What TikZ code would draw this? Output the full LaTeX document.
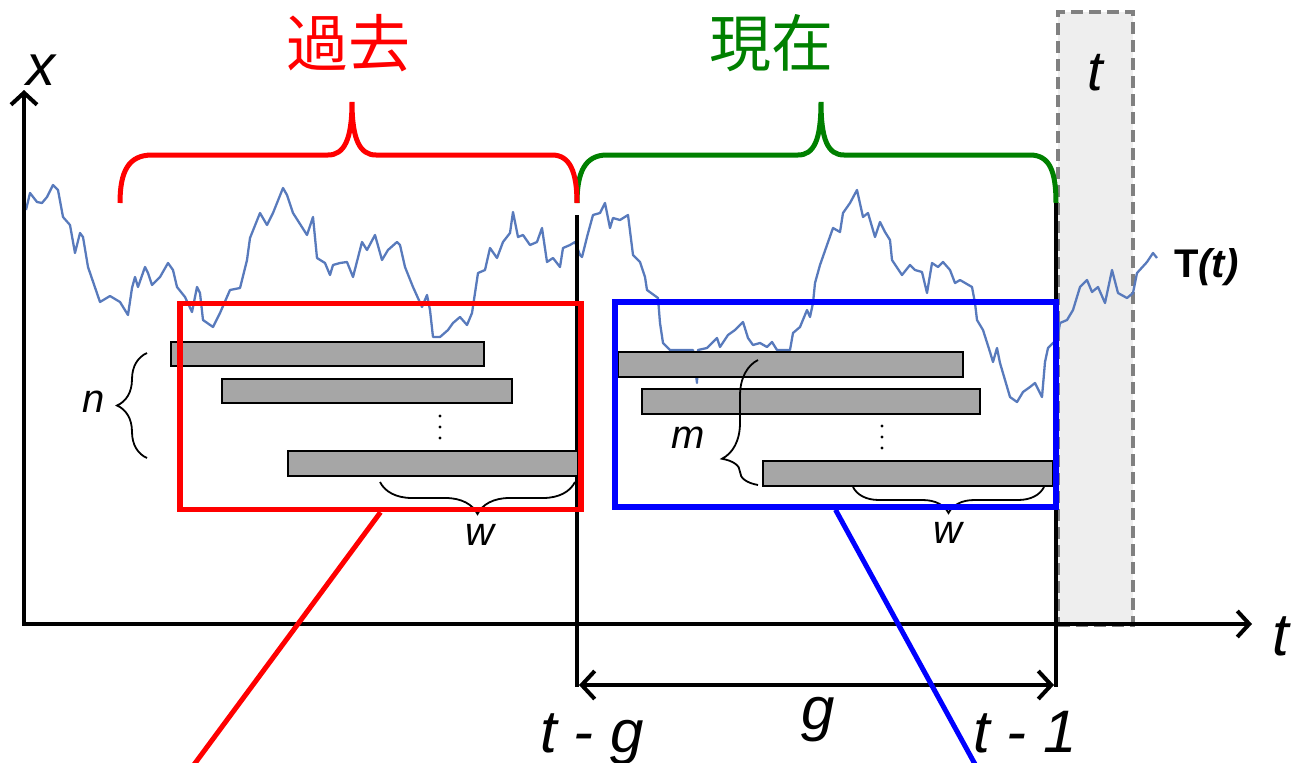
\documentclass[tikz,border=0pt]{standalone}
\usepackage{fontspec}
\setmainfont{Liberation Sans}
\newfontfamily\cjk{Noto Sans CJK JP}
\usetikzlibrary{arrows.meta,decorations.pathreplacing}
\definecolor{curveblue}{RGB}{88,122,188}
\definecolor{bargray}{RGB}{166,166,166}
\definecolor{boxgray}{RGB}{238,238,238}
\definecolor{dashgray}{RGB}{128,128,128}
\definecolor{dkgreen}{RGB}{0,128,0}
\tikzset{
  axisline/.style={line width=4pt, {Straight Barb[length=12pt,width=26pt,line width=4pt]}-{Straight Barb[length=12pt,width=26pt,line width=4pt]}},
  bigbrace/.style={line width=5pt},
  vline/.style={line width=4pt},
  gbar/.style={draw=black, fill=bargray, line width=1.5pt, inner sep=0pt, anchor=north west},
  smallbrace/.style={draw=black, line width=1.8pt, decorate},
  biglab/.style={font=\fontsize{60}{60}\selectfont\itshape, inner sep=0pt, anchor=base},
  smalllab/.style={font=\fontsize{40}{40}\selectfont\itshape, inner sep=0pt, anchor=base},
  cjklab/.style={font=\fontsize{62}{62}\selectfont\cjk, inner sep=0pt},
  winbox/.style={line width=5.5pt, inner sep=0pt, fill=none},
  zoomline/.style={line width=5pt},
  vdot/.style={fill=black}
}
\begin{document}
\begin{tikzpicture}[x=1pt,y=-1pt]
\useasboundingbox (0,0) rectangle (1294,763);

% gray target box
\node[draw=dashgray, fill=boxgray, line width=4pt, dash pattern=on 12pt off 6pt,
      minimum width=75pt, minimum height=613pt, inner sep=0pt] (tbox) at (1095.5,318.5) {};
\node[font=\fontsize{56}{56}\selectfont\itshape, inner sep=0pt, anchor=base] (tlab) at (1095,90) {t};

% time series
\draw[curveblue, line width=2.3pt, line join=round]
(26,210)--(30,193)--(37,202)--(42,203)--(47,197)--(53,185)--(58,190)--(63,217)--(70,225)--(75,253)--(80,233)--(83,237)--(88,267)--(100,302)--(110,296)--(120,302)--(128,315)--(132,288)--(135,277)--(138,287)--(145,267)--(148,273)--(152,285)--(160,277)--(168,263)--(173,270)--(177,287)--(185,297)--(192,312)--(197,287)--(200,293)--(203,320)--(213,327)--(220,313)--(230,290)--(240,288)--(247,260)--(250,238)--(260,213)--(267,225)--(273,213)--(283,188)--(287,195)--(293,213)--(307,235)--(313,217)--(317,258)--(325,263)--(330,275)--(333,265)--(340,263)--(347,262)--(353,277)--(362,242)--(367,250)--(375,235)--(382,260)--(388,250)--(397,242)--(400,245)--(405,267)--(413,287)--(422,307)--(427,295)--(430,310)--(433,337)--(440,337)--(448,330)--(453,323)--(460,317)--(467,325)--(472,313)--(475,293)--(478,273)--(485,270)--(490,248)--(497,258)--(503,242)--(510,233)--(513,212)--(518,237)--(523,235)--(530,245)--(537,242)--(542,228)--(547,262)--(553,258)--(560,267)--(563,248)--(570,245)--(575,242)--(580,255)--(582,257)--(587,237)--(593,215)--(600,213)--(605,203)--(610,228)--(613,218)--(620,220)--(628,215)--(633,255)--(640,262)--(645,277)--(647,290)--(658,298)--(660,323)--(663,343)--(670,350)--(693,350)--(697,383)--(698,350)--(707,348)--(717,338)--(720,347)--(728,335)--(735,330)--(743,322)--(748,338)--(753,345)--(760,343)--(767,347)--(772,342)--(777,350)--(790,350)--(793,333)--(800,327)--(807,310)--(810,317)--(813,303)--(815,283)--(820,265)--(827,245)--(833,228)--(840,232)--(843,213)--(850,203)--(857,190)--(863,217)--(868,213)--(875,237)--(880,222)--(885,232)--(890,240)--(892,260)--(902,275)--(910,265)--(915,270)--(922,272)--(927,293)--(932,263)--(938,267)--(943,262)--(950,270)--(955,283)--(960,280)--(972,287)--(975,303)--(977,320)--(983,330)--(990,352)--(993,362)--(997,348)--(1000,363)--(1005,380)--(1010,397)--(1017,402)--(1023,392)--(1030,387)--(1035,383)--(1042,397)--(1045,362)--(1048,348)--(1053,343)--(1057,340)--(1060,323)--(1067,320)--(1073,310)--(1080,287)--(1087,280)--(1092,292)--(1098,287)--(1105,303)--(1112,270)--(1118,293)--(1127,298)--(1133,293)--(1137,273)--(1147,262)--(1153,253)--(1157,258);
\node[font=\fontsize{40}{40}\selectfont\bfseries, inner sep=0pt, anchor=base west] (Tt) at (1174,277) {T\itshape(t)};

% axes
\coordinate (ytip) at (24,90);
\coordinate (origin) at (24,624);
\coordinate (xtip) at (1252,624);
\draw[axisline] (ytip) -- (origin) -- (xtip);
\node[biglab, font=\fontsize{58}{58}\selectfont\itshape] (xlab) at (41,85) {x};
\node[biglab] (tax) at (1281,655) {t};

% big braces
\draw[dkgreen, bigbrace] (577,203) .. controls (577,172) and (585,155) .. (607,155) -- (798,155) .. controls (814,155) and (821,140) .. (821,102) .. controls (821,140) and (828,155) .. (844,155) -- (1030,155) .. controls (1050,155) and (1056,172) .. (1056,203);
\draw[red, bigbrace] (120,203) .. controls (120,172) and (128,155) .. (152,155) -- (328,155) .. controls (344,155) and (352,140) .. (352,102) .. controls (352,140) and (360,155) .. (376,155) -- (552,155) .. controls (570,155) and (577,172) .. (577,203);
\node[cjklab, text=red] (kako) at (348,43) {過去};
\node[cjklab, text=dkgreen] (genzai) at (771,43) {現在};

% vertical markers and g arrow
\coordinate (lt) at (577,215);
\coordinate (lb) at (577,687);
\coordinate (rt) at (1056,203);
\coordinate (rb) at (1056,687);
\draw[vline] (lt) -- (lb);
\draw[vline] (rt) -- (rb);
\coordinate (ga) at (579,685);
\coordinate (gb) at (1054,685);
\draw[line width=4pt, {Straight Barb[length=13pt,width=28pt,line width=4pt]}-{Straight Barb[length=13pt,width=28pt,line width=4pt]}] (ga) -- (gb);
\node[biglab] (glab) at (818,729) {g};
\node[biglab] (tg) at (592,752) {t - g};
\node[biglab] (t1) at (1025,752) {t - 1};

% bars, left window
\node[gbar, minimum width=313pt, minimum height=24pt] (lb1) at (170,341) {};
\node[gbar, minimum width=290pt, minimum height=24pt] (lb2) at (221,378) {};
\node[gbar, minimum width=290pt, minimum height=25pt] (lb3) at (287,450) {};
\fill[vdot] (440,416) circle (1.7pt) (440,427) circle (1.7pt) (440,438) circle (1.7pt);
\coordinate (nb) at (147,458);
\coordinate (nt) at (147,353);
\draw[smallbrace, decoration={brace, amplitude=30pt}] (nb) -- (nt);
\node[smalllab] (nlab) at (94,412) {n};
\coordinate (wl) at (380,482);
\coordinate (wr) at (575,482);
\draw[smallbrace, decoration={brace, amplitude=32pt}] (wr) -- (wl);
\node[smalllab] (wlab1) at (480,545) {w};

% bars, right window
\node[gbar, minimum width=345pt, minimum height=25pt] (rb1) at (617,351) {};
\node[gbar, minimum width=338pt, minimum height=25pt] (rb2) at (641,388) {};
\node[gbar, minimum width=290pt, minimum height=25pt] (rb3) at (762,460) {};
\fill[vdot] (882,426) circle (1.7pt) (882,437) circle (1.7pt) (882,448) circle (1.7pt);
\coordinate (mb) at (758,485);
\coordinate (mt) at (758,360);
\draw[smallbrace, decoration={brace, amplitude=36pt, aspect=0.21}] (mb) -- (mt);
\node[smalllab] (mlab) at (688,448) {m};
\coordinate (vl) at (853,487);
\coordinate (vr) at (1044,487);
\draw[smallbrace, decoration={brace, amplitude=26pt}] (vr) -- (vl);
\node[smalllab] (wlab2) at (948,543) {w};

% windows
\node[draw=red, winbox, minimum width=401pt, minimum height=206pt] (redbox) at (380.5,406.5) {};
\node[draw=blue, winbox, minimum width=441pt, minimum height=205pt] (bluebox) at (835.5,404.5) {};
\coordinate (redend) at (193,766);
\coordinate (blueend) at (976,766);
\draw[red, zoomline] (redbox.south) -- (redend);
\draw[blue, zoomline] (bluebox.south) -- (blueend);
\end{tikzpicture}
\end{document}
